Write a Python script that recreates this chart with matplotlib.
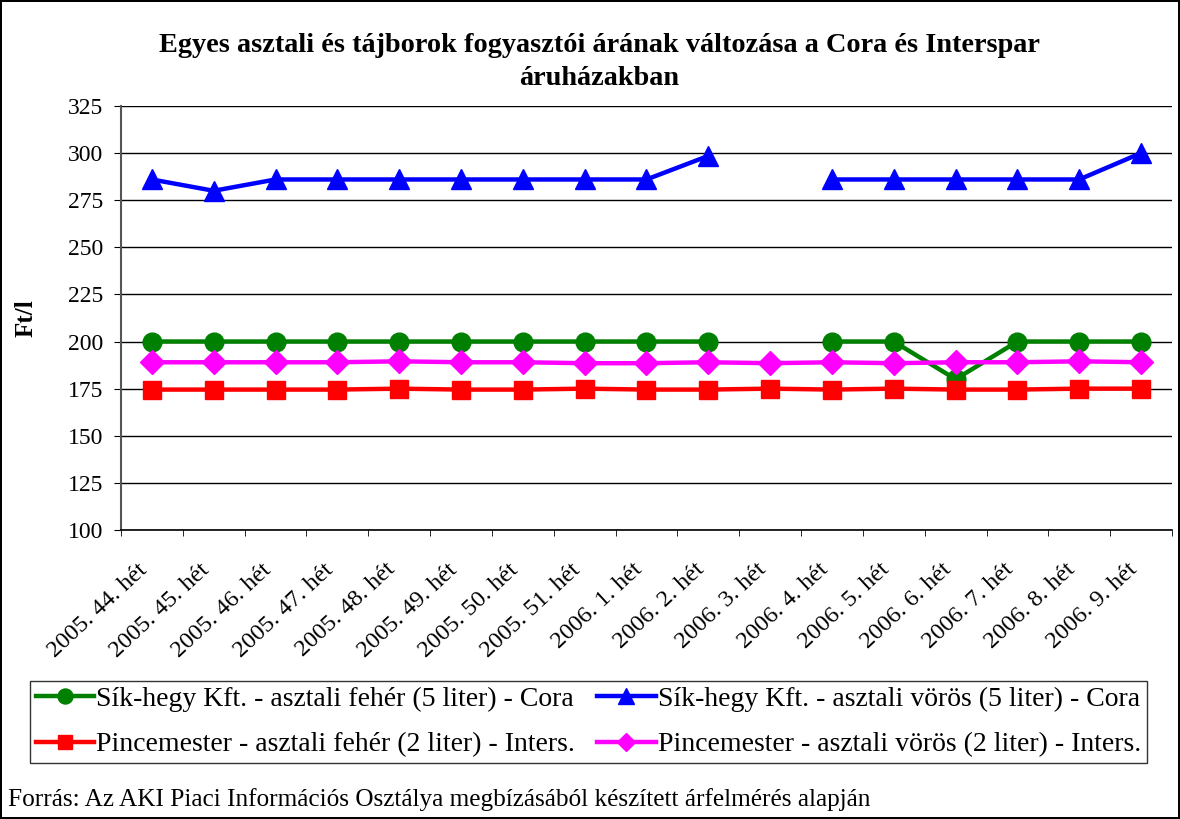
import matplotlib.pyplot as plt
import numpy as np

plt.rcParams['font.family'] = ['Liberation Serif', 'DejaVu Serif']

weeks = ['2005. 44. hét', '2005. 45. hét', '2005. 46. hét', '2005. 47. hét',
         '2005. 48. hét', '2005. 49. hét', '2005. 50. hét', '2005. 51. hét',
         '2006. 1. hét', '2006. 2. hét', '2006. 3. hét', '2006. 4. hét',
         '2006. 5. hét', '2006. 6. hét', '2006. 7. hét', '2006. 8. hét',
         '2006. 9. hét']
nan = np.nan
sik_feher = [200, 200, 200, 200, 200, 200, 200, 200, 200, 200, nan, 200, 200, 180, 200, 200, 200]
sik_voros = [286, 280, 286, 286, 286, 286, 286, 286, 286, 298.5, nan, 286, 286, 286, 286, 286, 300]
pince_feher = [174.5, 174.5, 174.5, 174.5, 175, 174.5, 174.5, 175, 174.5, 174.5, 175, 174.5, 175, 174.5, 174.5, 175, 175]
pince_voros = [189, 189, 189, 189, 189.5, 189, 189, 188.5, 188.5, 189, 188.5, 189, 188.5, 189, 189, 189.5, 189]

labels = ['Sík-hegy Kft. - asztali fehér (5 liter) - Cora',
          'Sík-hegy Kft. - asztali vörös (5 liter) - Cora',
          'Pincemester - asztali fehér (2 liter) - Inters.',
          'Pincemester - asztali vörös (2 liter) - Inters.']

fig = plt.figure(figsize=(11.8, 8.19), dpi=100, edgecolor='black', linewidth=1.5)
ax = fig.add_axes([0.1025, 0.3529, 0.8907, 0.5177])

x = np.arange(len(weeks))
lw = 3.2
h1, = ax.plot(x, sik_feher, '-o', color='#008000', lw=lw, ms=13.5, label=labels[0])
h2, = ax.plot(x, sik_voros, '-^', color='#0000FF', lw=lw, ms=14, label=labels[1])
h3, = ax.plot(x, pince_feher, '-s', color='#FF0000', lw=lw, ms=13, label=labels[2])
h4, = ax.plot(x, pince_voros, '-D', color='#FF00FF', lw=lw, ms=12, label=labels[3])

ax.set_xlim(-0.5, len(weeks) - 0.5)
ax.set_ylim(100, 325)
ax.set_yticks(np.arange(100, 326, 25))
ax.yaxis.grid(True, color='black', lw=1)
ax.set_axisbelow(True)
for s in ['top', 'right']:
    ax.spines[s].set_visible(False)
ax.spines['left'].set_color('#555555')
ax.spines['left'].set_linewidth(1.5)
ax.spines['bottom'].set_linewidth(1.2)

ax.set_xticks(x)
ax.set_xticklabels(weeks, rotation=43, ha='right', va='top')
ax.set_xticks(np.arange(-0.5, len(weeks)), minor=True)
ax.tick_params(axis='x', which='major', length=0, labelsize=17.5, pad=21)
ax.tick_params(axis='x', which='minor', length=4.5, direction='out')
ax.tick_params(axis='y', labelsize=17, length=5, pad=8)

fig.text(26 / 1180, 1 - 318 / 819, 'Ft/l', rotation=90, fontsize=18,
         fontweight='bold', ha='center', va='center')

fig.text(0.508, 1 - 62 / 819,
         'Egyes asztali és tájborok fogyasztói árának változása a Cora és Interspar\náruházakban',
         ha='center', va='center', fontsize=20.3, fontweight='bold', linespacing=1.45)

leg = fig.legend(handles=[h1, h3, h2, h4], loc='upper left', ncol=2,
                 bbox_to_anchor=(30 / 1180, 1 - 681 / 819), fontsize=20, frameon=True,
                 fancybox=False, edgecolor='black', handlelength=2.1,
                 handletextpad=0.08, columnspacing=0.8, labelspacing=0.72,
                 borderpad=0.2, borderaxespad=0, markerscale=0.8)
leg.get_frame().set_linewidth(1.0)

fig.text(0.007, 1 - 806 / 819,
         'Forrás: Az AKI Piaci Információs Osztálya megbízásából készített árfelmérés alapján',
         fontsize=18.2, ha='left', va='baseline')

fig.savefig('out.png', dpi=100, edgecolor=fig.get_edgecolor())
